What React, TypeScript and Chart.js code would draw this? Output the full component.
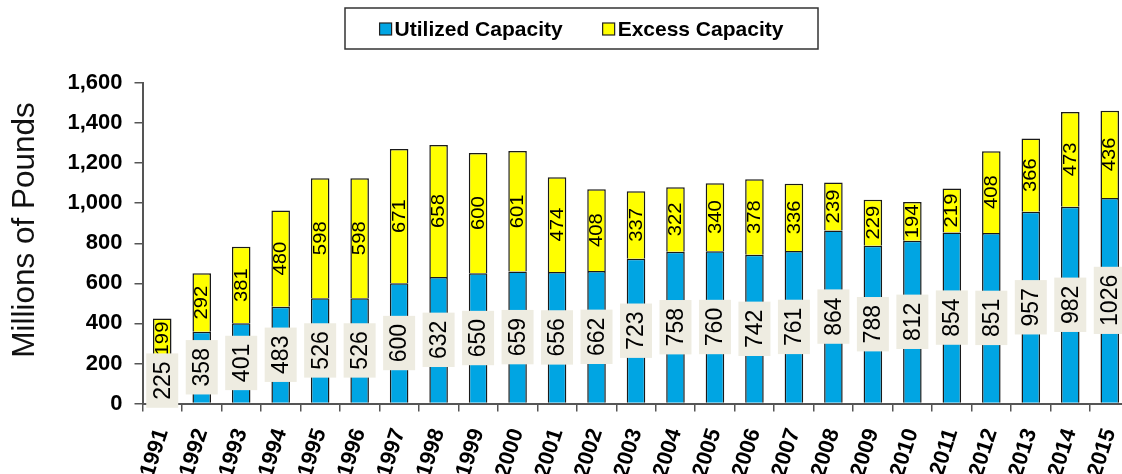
import React, { useEffect, useRef } from "react";
import { Chart, registerables } from "chart.js";

Chart.register(...registerables);

const years = [
  "1991", "1992", "1993", "1994", "1995", "1996", "1997", "1998", "1999", "2000",
  "2001", "2002", "2003", "2004", "2005", "2006", "2007", "2008", "2009", "2010",
  "2011", "2012", "2013", "2014", "2015",
];
const utilized = [
  225, 358, 401, 483, 526, 526, 600, 632, 650, 659,
  656, 662, 723, 758, 760, 742, 761, 864, 788, 812,
  854, 851, 957, 982, 1026,
];
const excess = [
  199, 292, 381, 480, 598, 598, 671, 658, 600, 601,
  474, 408, 337, 322, 340, 378, 336, 239, 229, 194,
  219, 408, 366, 473, 436,
];
const seriesNames = ["Utilized Capacity", "Excess Capacity"];
const seriesColors = ["#00A5E3", "#FFFF00"];
const yAxisTitle = "Millions of Pounds";
const yMax = 1600;
const yStep = 200;

const FONT = "'Liberation Sans', Arial, sans-serif";

const labelPlugin = {
  id: "segmentLabels",
  afterDatasetsDraw(chart: any) {
    const ctx = chart.ctx;
    const meta = chart.getDatasetMeta(1);
    const vals = chart.data.datasets[1].data;
    meta.data.forEach((el: any, i: number) => {
      const { x, y, base } = el.getProps(["x", "y", "base"], true);
      const cy = (y + base) / 2;
      ctx.save();
      ctx.translate(x, cy);
      ctx.rotate(-Math.PI / 2);
      ctx.scale(0.92, 0.8);
      ctx.font = `22px ${FONT}`;
      ctx.textAlign = "center";
      ctx.textBaseline = "middle";
      ctx.fillStyle = "#000";
      ctx.fillText(String(vals[i]), 0, 1);
      ctx.restore();
    });
  },
  afterDraw(chart: any) {
    const ctx = chart.ctx;
    // utilized labels with beige boxes
    const meta = chart.getDatasetMeta(0);
    const vals = chart.data.datasets[0].data;
    meta.data.forEach((el: any, i: number) => {
      const { x, y, base } = el.getProps(["x", "y", "base"], true);
      const cy = (y + base) / 2;
      const txt = String(vals[i]);
      ctx.save();
      ctx.font = `23px ${FONT}`;
      const w = ctx.measureText(txt).width;
      const boxH = w + 16;
      const boxW = 32;
      ctx.fillStyle = "#EEECE1";
      ctx.fillRect(x - boxW / 2, cy - boxH / 2, boxW, boxH);
      ctx.translate(x, cy);
      ctx.rotate(-Math.PI / 2);
      ctx.textAlign = "center";
      ctx.textBaseline = "middle";
      ctx.fillStyle = "#000";
      ctx.fillText(txt, 0, 1);
      ctx.restore();
    });

    // y axis title
    ctx.save();
    ctx.translate(25, 230);
    ctx.rotate(-Math.PI / 2);
    ctx.font = `31.5px ${FONT}`;
    ctx.textAlign = "center";
    ctx.textBaseline = "middle";
    ctx.fillStyle = "#111";
    ctx.fillText(yAxisTitle, 0, 0);
    ctx.restore();

    // legend
    const ds = chart.data.datasets;
    ctx.save();
    ctx.font = `bold 21px ${FONT}`;
    const box = 12;
    const gapBox = 3;
    const gapItem = 40;
    const widths = ds.map((d: any) => ctx.measureText(d.label).width);
    const total = widths.reduce((a: number, b: number) => a + b + box + gapBox, 0) + gapItem * (ds.length - 1);
    const cx = 581.5;
    const cyL = 29;
    ctx.fillStyle = "#fff";
    ctx.strokeStyle = "#333";
    ctx.lineWidth = 1.5;
    ctx.fillRect(345, 8, 473, 41);
    ctx.strokeRect(345, 8, 473, 41);
    let xx = cx - total / 2;
    ds.forEach((d: any, i: number) => {
      ctx.fillStyle = d.backgroundColor;
      ctx.fillRect(xx, cyL - box / 2, box, box);
      ctx.strokeStyle = "#222";
      ctx.lineWidth = 1.2;
      ctx.strokeRect(xx, cyL - box / 2, box, box);
      ctx.fillStyle = "#000";
      ctx.textAlign = "left";
      ctx.textBaseline = "middle";
      ctx.fillText(d.label, xx + box + gapBox, cyL + 1);
      xx += box + gapBox + widths[i] + gapItem;
    });
    ctx.restore();
  },
};

export default function App() {
  const ref = useRef<HTMLCanvasElement | null>(null);
  useEffect(() => {
    if (!ref.current) return;
    const chart = new Chart(ref.current, {
      type: "bar",
      data: {
        labels: years,
        datasets: [
          {
            label: seriesNames[0],
            data: utilized,
            backgroundColor: seriesColors[0],
            borderColor: "#1a1a1a",
            borderWidth: 1.5,
            barPercentage: 0.47,
            categoryPercentage: 1,
          },
          {
            label: seriesNames[1],
            data: excess,
            backgroundColor: seriesColors[1],
            borderColor: "#1a1a1a",
            borderWidth: 1.5,
            barPercentage: 0.47,
            categoryPercentage: 1,
          },
        ],
      },
      options: {
        animation: false,
        responsive: false,
        layout: { padding: { top: 83, right: 10.5, bottom: 0, left: 0 } },
        plugins: {
          legend: { display: false },
          tooltip: { enabled: false },
        },
        scales: {
          x: {
            stacked: true,
            grid: {
              offset: true,
              drawOnChartArea: false,
              tickLength: 8,
              color: "#555",
              lineWidth: 1.5,
            },
            border: { color: "#555", width: 2 },
            ticks: {
              autoSkip: false,
              minRotation: 72,
              maxRotation: 72,
              padding: 14,
              color: "#000",
              font: { family: FONT, size: 22, weight: "bold" },
            },
            afterFit(scale: any) {
              scale.height = 70.5;
              scale.paddingLeft = 0;
              scale.paddingRight = 0;
            },
          },
          y: {
            stacked: true,
            min: 0,
            max: yMax,
            grid: {
              drawOnChartArea: false,
              tickLength: 8,
              color: "#555",
              lineWidth: 1.5,
            },
            border: { color: "#555", width: 2 },
            ticks: {
              stepSize: yStep,
              padding: 12,
              color: "#000",
              font: { family: FONT, size: 22, weight: "bold" },
              callback: (v: any) => Number(v).toLocaleString("en-US"),
            },
            afterFit(scale: any) {
              scale.width = 142.5;
              scale.paddingTop = 0;
              scale.paddingBottom = 0;
            },
          },
        },
      },
      plugins: [labelPlugin],
    });
    return () => chart.destroy();
  }, []);

  return (
    <div
      style={{
        position: "absolute",
        left: 0,
        top: 0,
        width: 1122,
        height: 474,
        overflow: "hidden",
        background: "#fff",
      }}
    >
      <canvas ref={ref} width={1140} height={474} style={{ display: "block" }} />
    </div>
  );
}
